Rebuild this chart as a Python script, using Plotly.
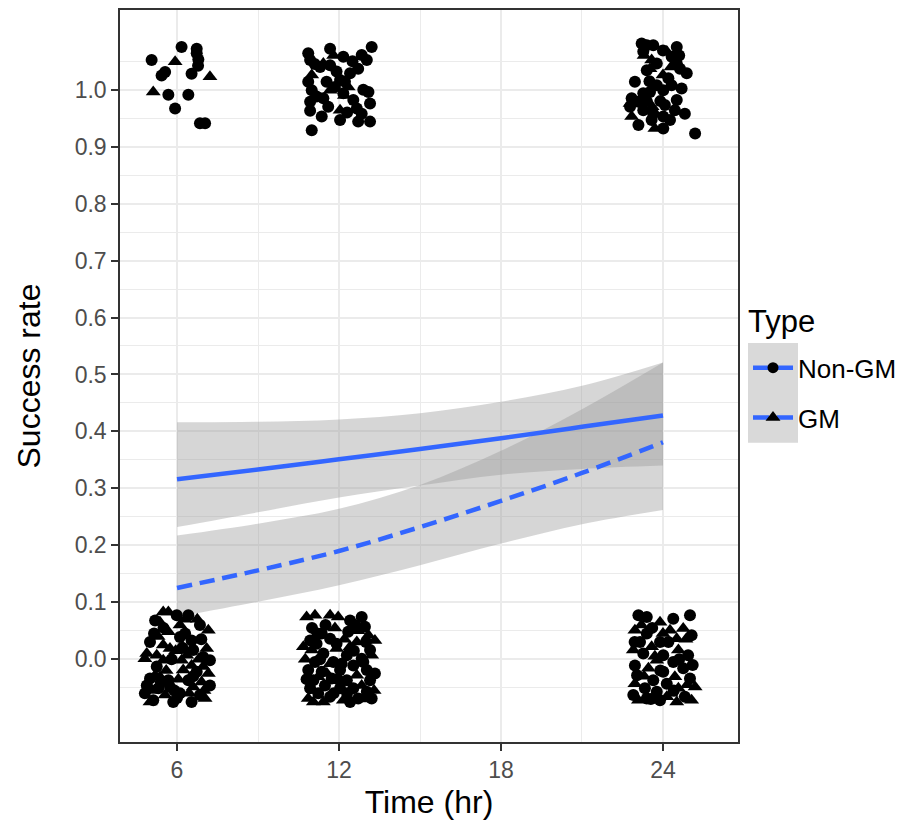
import plotly.graph_objects as go

# ---- fitted curves ----
time_grid = [6, 9, 12, 15, 18, 21, 24]
nongm_fit = [0.316, 0.333, 0.351, 0.369, 0.388, 0.408, 0.428]
nongm_upper = [0.416, 0.417, 0.421, 0.432, 0.452, 0.480, 0.521]
nongm_lower = [0.232, 0.258, 0.284, 0.305, 0.324, 0.334, 0.340]
gm_fit = [0.125, 0.156, 0.190, 0.232, 0.278, 0.327, 0.381]
gm_upper = [0.217, 0.238, 0.264, 0.306, 0.366, 0.439, 0.521]
gm_lower = [0.074, 0.101, 0.130, 0.165, 0.203, 0.237, 0.262]

# ---- jittered observations (circles = Non-GM, triangles = GM) ----
nongm_x = [
    6.17, 6.73, 6.73, 5.06, 6.79, 6.78, 5.56, 5.43, 6.54, 5.68, 6.42, 5.93, 6.85, 7.04,
    10.86, 10.93, 11.67, 13.21, 12.84, 12.16, 11.67, 13.03, 12.71, 12.41, 11.91, 10.86,
    10.99, 11.54, 12.04, 12.16, 11.42, 10.93, 13.09, 13.15, 12.53, 12.66, 10.93, 11.36,
    12.04, 12.84, 12.71, 13.15, 10.99, 11.17, 12.22, 11.85,
    11.30, 12.50, 12.90, 11.60, 12.30, 11.10,
    23.21, 23.40, 23.64, 24.51, 24.00, 23.27, 24.32, 23.77, 24.51, 24.63, 24.88, 23.40,
    22.96, 23.77, 24.32, 24.69, 24.01, 23.52, 23.27, 22.84, 23.09, 22.78, 24.07, 24.51,
    24.44, 24.81, 23.27, 23.64, 24.01, 23.58, 23.09, 24.26, 25.19, 24.01,
    24.20, 23.50, 24.60, 23.90, 23.40,
    5.99, 6.42, 5.19, 6.85, 6.11, 5.00, 6.54, 6.60, 6.97, 7.22, 5.25, 6.73, 5.00, 5.68,
    6.42, 4.88, 5.31, 5.74, 7.22, 4.81, 6.11, 6.85, 5.12, 5.86, 6.54,
    5.50, 6.30, 5.80, 6.60, 5.40, 6.00, 6.90, 5.15, 6.20, 5.90,
    12.41, 12.84, 11.36, 12.34, 12.96, 10.93, 11.67, 11.42, 12.29, 12.84, 11.11, 12.53,
    10.86, 11.36, 12.04, 13.03, 11.05, 11.73, 12.29, 13.15, 11.48, 10.93, 12.04, 12.53,
    11.23, 13.03, 11.67, 12.71, 13.21, 12.41, 11.91, 11.17, 11.79, 12.10, 13.15, 13.33,
    11.00, 11.50, 12.60, 13.00, 11.30, 12.30, 11.80, 10.80, 12.90, 11.95, 12.55, 11.20,
    23.09, 23.40, 24.38, 25.00, 23.40, 25.06, 23.89, 23.27, 24.01, 24.93, 24.38, 22.96,
    24.75, 24.01, 23.04, 23.64, 25.00, 24.14, 23.33, 23.77, 22.90, 24.81, 23.40, 23.89,
    23.60, 24.20, 24.60, 23.15, 23.90, 24.40, 23.55, 25.10, 22.95,
]
nongm_y = [
    1.075, 1.072, 1.064, 1.052, 1.053, 1.042, 1.031, 1.025, 1.028, 0.991, 0.991, 0.967, 0.941, 0.941,
    1.064, 1.052, 1.072, 1.075, 1.061, 1.058, 1.043, 1.052, 1.037, 1.029, 1.032, 1.014,
    0.999, 1.014, 1.017, 0.994, 0.985, 0.979, 0.996, 0.976, 0.982, 0.967, 0.963, 0.953,
    0.947, 0.958, 0.944, 0.944, 0.929, 0.988, 1.014, 1.005,
    1.040, 1.050, 1.000, 0.970, 0.960, 1.045,
    1.081, 1.078, 1.078, 1.075, 1.069, 1.067, 1.058, 1.046, 1.046, 1.037, 1.029, 1.034,
    1.014, 1.008, 1.008, 1.002, 0.999, 0.996, 0.994, 0.985, 0.979, 0.970, 0.973, 0.982,
    0.964, 0.958, 0.964, 0.958, 0.953, 0.947, 0.938, 0.947, 0.923, 0.932,
    1.020, 1.015, 1.060, 0.980, 0.980,
    0.077, 0.077, 0.068, 0.060, 0.039, 0.030, 0.033, 0.016, 0.004, -0.002, -0.013, -0.022, -0.034, -0.037,
    -0.037, -0.046, -0.051, -0.049, -0.046, -0.060, -0.060, -0.063, -0.072, -0.075, -0.075,
    0.055, 0.045, 0.000, -0.030, -0.040, -0.068, 0.035, 0.045, 0.020, -0.055,
    0.068, 0.074, 0.045, 0.048, 0.057, 0.033, 0.036, 0.010, 0.007, 0.001, -0.005, -0.011,
    -0.019, -0.022, -0.019, -0.019, -0.037, -0.034, -0.037, -0.037, -0.046, -0.051, -0.051, -0.051,
    -0.060, -0.057, -0.066, -0.069, -0.069, -0.075, 0.027, 0.027, -0.005, -0.008, 0.016, -0.025,
    0.055, 0.060, 0.060, 0.030, 0.000, -0.060, -0.060, -0.035, -0.005, -0.035, 0.015, 0.045,
    0.077, 0.074, 0.071, 0.077, 0.045, 0.042, 0.030, 0.010, 0.007, 0.007, -0.005, -0.011,
    -0.016, -0.022, -0.028, -0.037, -0.034, -0.043, -0.051, -0.057, -0.063, -0.066, -0.069, -0.072,
    0.055, 0.030, 0.000, 0.030, -0.020, -0.055, -0.070, -0.010, 0.030,
]
gm_x = [
    5.93, 7.22, 5.12,
    11.42, 10.99, 11.67, 12.34, 12.04, 12.20, 11.80,
    24.14, 23.58, 23.52, 24.00, 22.78, 22.84, 23.70, 24.30, 23.30, 23.60,
    5.49, 5.68, 5.37, 6.11, 7.16, 5.68, 5.49, 5.74, 7.10, 4.88, 5.25, 6.36, 4.81,
    5.49, 6.17, 6.54, 6.97, 6.23, 7.16, 5.37, 5.19, 6.91, 6.60, 5.56, 5.00, 7.04,
    5.30, 6.75, 5.95, 6.45, 5.10, 6.05, 7.00, 5.60, 6.80, 6.30,
    10.80, 11.11, 11.67, 11.97, 13.09, 12.66, 10.99, 11.91, 13.21, 11.67, 12.66, 12.84,
    10.86, 12.16, 11.42, 12.41, 11.23, 13.33, 10.68,
    12.20, 11.55, 12.95, 11.05, 12.70, 10.75, 13.30, 11.85,
    23.89, 22.96, 24.26, 24.75, 24.51, 23.58, 22.90, 24.57, 23.77, 23.46, 24.44, 22.96,
    24.57, 25.19, 24.14, 25.06, 23.09, 24.51,
    24.00, 23.30, 24.85, 23.70, 24.30, 24.90, 23.20,
]
gm_y = [
    1.049, 1.023, 0.996,
    1.046, 1.026, 0.999, 1.005, 0.964, 0.990, 1.060,
    1.067, 1.052, 1.037, 1.026, 0.976, 0.953, 0.932, 1.040, 1.060, 0.970,
    0.083, 0.083, 0.065, 0.060, 0.051, 0.048, 0.025, 0.019, 0.019, 0.010, 0.007, 0.007, 0.001,
    -0.002, -0.002, -0.011, -0.013, -0.019, -0.025, -0.031, -0.028, -0.040, -0.049, -0.063, -0.075, -0.069,
    0.040, 0.070, 0.015, -0.060, -0.055, -0.035, -0.055, -0.020, 0.000, 0.070,
    0.074, 0.077, 0.077, 0.074, 0.042, 0.030, 0.016, 0.019, 0.007, -0.008, -0.028, -0.046,
    -0.069, -0.072, -0.075, 0.022, -0.031, 0.033, 0.022,
    0.035, -0.025, -0.070, -0.075, 0.050, 0.000, -0.055, 0.055,
    0.065, 0.051, 0.051, 0.054, 0.036, 0.022, 0.016, 0.016, -0.002, -0.016, -0.031, -0.043,
    -0.051, -0.049, -0.066, -0.072, -0.072, -0.075,
    0.045, -0.030, 0.035, 0.005, -0.060, -0.045, 0.060,
]

x_ticks = [6, 12, 18, 24]
y_ticks = [0.0, 0.1, 0.2, 0.3, 0.4, 0.5, 0.6, 0.7, 0.8, 0.9, 1.0]

BLUE = "#3366FF"
RIBBON = "rgba(153,153,153,0.4)"
FONT = "Liberation Sans, Arial, sans-serif"

fig = go.Figure()

# confidence ribbons (smooth band between lower and upper curves)
for upper, lower in [(nongm_upper, nongm_lower), (gm_upper, gm_lower)]:
    fig.add_trace(go.Scatter(x=time_grid, y=lower, mode="lines",
                             line=dict(width=0, shape="spline"),
                             showlegend=False, hoverinfo="skip"))
    fig.add_trace(go.Scatter(x=time_grid, y=upper, mode="lines",
                             line=dict(width=0, shape="spline"),
                             fill="tonexty", fillcolor=RIBBON,
                             showlegend=False, hoverinfo="skip"))

fig.add_trace(go.Scatter(x=time_grid, y=nongm_fit, mode="lines",
                         line=dict(color=BLUE, width=4.5, shape="spline"), showlegend=False))
fig.add_trace(go.Scatter(x=time_grid, y=gm_fit, mode="lines",
                         line=dict(color=BLUE, width=4.5, dash="15px,8px", shape="spline"),
                         showlegend=False))

fig.add_trace(go.Scatter(x=nongm_x, y=nongm_y, mode="markers",
                         marker=dict(symbol="circle", size=12, color="black"),
                         showlegend=False))
fig.add_trace(go.Scatter(x=gm_x, y=gm_y, mode="markers",
                         marker=dict(symbol="triangle-up", size=13, color="black"),
                         showlegend=False))

# legend entries
fig.add_trace(go.Scatter(x=[None], y=[None], mode="lines+markers", name="Non-GM",
                         legendgroup="a",
                         line=dict(color=BLUE, width=4.5),
                         marker=dict(symbol="circle", size=11, color="black")))
fig.add_trace(go.Scatter(x=[None], y=[None], mode="lines+markers", name="GM",
                         legendgroup="b",
                         line=dict(color=BLUE, width=4.5, dash="16px,8px"),
                         marker=dict(symbol="triangle-up", size=13, color="black")))

axis_common = dict(
    showline=True, mirror=True, linecolor="#333333", linewidth=1.5,
    ticks="outside", ticklen=7, tickwidth=1.5, tickcolor="#333333",
    showgrid=True, gridcolor="#ebebeb", gridwidth=1.5,
    zeroline=False,
    tickfont=dict(family=FONT, size=23, color="#4d4d4d"),
)

fig.update_xaxes(
    range=[3.889, 26.778], tickvals=x_ticks, ticktext=[str(v) for v in x_ticks],
    minor=dict(tickvals=[9, 15, 21], showgrid=True, gridcolor="#ebebeb", gridwidth=0.75, ticks=""),
    title=dict(text="Time (hr)", font=dict(family=FONT, size=32, color="black"), standoff=8),
    **axis_common)
fig.update_yaxes(
    range=[-0.1454, 1.140], tickvals=y_ticks, ticktext=[f"{v:.1f}" for v in y_ticks],
    minor=dict(tickvals=[-0.05 + 0.1 * i for i in range(12)], showgrid=True,
               gridcolor="#ebebeb", gridwidth=0.75, ticks=""),
    title=dict(text="Success rate", font=dict(family=FONT, size=32, color="black"), standoff=24),
    **axis_common)

# grey background behind the legend keys
fig.add_shape(type="rect", xref="paper", yref="paper",
              x0=1.0162, x1=1.0971, y0=0.4087, y1=0.5450,
              fillcolor="#d9d9d9", line=dict(width=0), layer="below")

fig.add_annotation(text="Type", xref="paper", yref="paper", x=1.0130, y=0.5749,
                   xanchor="left", yanchor="middle", showarrow=False,
                   font=dict(family=FONT, size=31, color="black"))

fig.update_layout(
    width=906, height=817, autosize=False,
    margin=dict(l=112, r=176, t=0, b=83),
    paper_bgcolor="white", plot_bgcolor="white",
    font=dict(family=FONT, color="black"),
    legend=dict(
        font=dict(family=FONT, size=26, color="black"),
        x=1.0162, y=0.5433, xanchor="left", yanchor="top",
        bgcolor="rgba(0,0,0,0)", itemwidth=40, tracegroupgap=13,
        traceorder="grouped",
    ),
)

fig.write_html("out.html")
